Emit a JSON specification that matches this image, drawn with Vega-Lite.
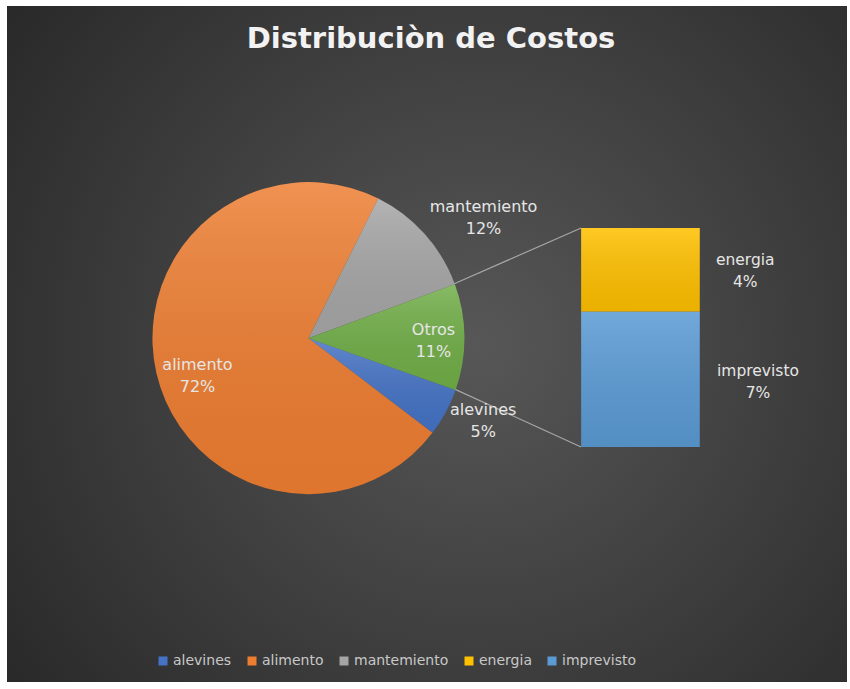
{
  "$schema": "https://vega.github.io/schema/vega-lite/v6.json",
  "width": 850,
  "height": 689,
  "autosize": {"type": "fit", "contains": "padding"},
  "padding": {"left": 7, "top": 6, "right": 3, "bottom": 7},
  "background": "#ffffff",
  "config": {
    "view": {
      "stroke": null,
      "fill": {"gradient": "radial", "x1": 0.56, "y1": 0.5, "r1": 0, "x2": 0.56, "y2": 0.5, "r2": 0.72,
        "stops": [{"offset": 0, "color": "#575757"}, {"offset": 1, "color": "#272727"}]}
    },
    "text": {"font": "DejaVu Sans"}
  },
  "datasets": {
    "pie": [
      {"label": "alevines", "value": 5},
      {"label": "alimento", "value": 72},
      {"label": "mantemiento", "value": 12},
      {"label": "Otros", "value": 11}
    ],
    "detail": [
      {"label": "energia", "value": 4.2},
      {"label": "imprevisto", "value": 6.8}
    ],
    "one": [{}]
  },
  "encoding": {
    "x": {"type": "quantitative", "scale": {"domain": [-15.07, 27.12], "nice": false, "zero": false}, "axis": null},
    "y": {"type": "quantitative", "scale": {"domain": [-11.80, 22.15], "nice": false, "zero": false}, "axis": null}
  },
  "layer": [
    {
      "data": {"name": "one"},
      "mark": {"type": "text", "text": "Distribuciòn de Costos", "font": "DejaVu Sans", "fontWeight": "bold", "fontSize": 29, "fill": "#F2F2F2", "align": "center", "baseline": "alphabetic"},
      "encoding": {"x": {"datum": 6.23, "type": "quantitative"}, "y": {"datum": 20.04, "type": "quantitative"}}
    },
    {
      "data": {"name": "one"},
      "mark": {"type": "rule", "color": "#A6A6A6", "strokeWidth": 1.2},
      "encoding": {"x": {"datum": 7.38, "type": "quantitative"}, "y": {"datum": 8.19, "type": "quantitative"}, "x2": {"datum": 13.86}, "y2": {"datum": 11}}
    },
    {
      "data": {"name": "one"},
      "mark": {"type": "rule", "color": "#A6A6A6", "strokeWidth": 1.2},
      "encoding": {"x": {"datum": 7.43, "type": "quantitative"}, "y": {"datum": 2.91, "type": "quantitative"}, "x2": {"datum": 13.86}, "y2": {"datum": 0}}
    },
    {
      "data": {"name": "pie"},
      "mark": {"type": "arc", "outerRadius": 156},
      "encoding": {
        "x": {"datum": 0, "type": "quantitative"},
        "y": {"datum": 5.47, "type": "quantitative"},
        "theta": {"field": "value", "type": "quantitative", "stack": true, "scale": {"range": [1.218, 7.501]}},
        "order": {"field": "label", "type": "ordinal", "sort": "ascending"},
        "color": {
          "field": "label", "type": "nominal",
          "scale": {
            "domain": ["alevines", "alimento", "mantemiento", "energia", "imprevisto", "Otros"],
            "range": ["#4472C4", "#ED7D31", "#A5A5A5", "#FFC000", "#5B9BD5", "#70AD47"]
          },
          "legend": {
            "values": ["alevines", "alimento", "mantemiento", "energia", "imprevisto"],
            "orient": "none", "legendX": 149, "legendY": 648, "direction": "horizontal",
            "title": null, "padding": 0, "symbolType": "square", "symbolSize": 81, "symbolStrokeWidth": 0,
            "labelFont": "DejaVu Sans", "labelFontSize": 14, "labelColor": "#C8C8C8", "labelOffset": 3,
            "columnPadding": 13
          }
        }
      }
    },
    {
      "data": {"name": "pie"},
      "mark": {"type": "arc", "outerRadius": 156,
        "fill": {"gradient": "linear", "x1": 0, "y1": 0, "x2": 0, "y2": 1,
          "stops": [{"offset": 0, "color": "rgba(255,255,255,0.16)"}, {"offset": 1, "color": "rgba(0,0,0,0.06)"}]}},
      "encoding": {
        "x": {"datum": 0, "type": "quantitative"},
        "y": {"datum": 5.47, "type": "quantitative"},
        "theta": {"field": "value", "type": "quantitative", "stack": true},
        "order": {"field": "label", "type": "ordinal", "sort": "ascending"}
      }
    },
    {
      "data": {"name": "detail"},
      "mark": {"type": "bar", "orient": "vertical"},
      "encoding": {
        "x": {"datum": 13.86, "type": "quantitative"},
        "x2": {"datum": 19.89},
        "y": {"field": "value", "type": "quantitative", "stack": "zero"},
        "order": {"field": "value", "type": "quantitative", "sort": "descending"},
        "color": {"field": "label", "type": "nominal"}
      }
    },
    {
      "data": {"name": "detail"},
      "mark": {"type": "bar", "orient": "vertical",
        "fill": {"gradient": "linear", "x1": 0, "y1": 0, "x2": 0, "y2": 1,
          "stops": [{"offset": 0, "color": "rgba(255,255,255,0.14)"}, {"offset": 1, "color": "rgba(0,0,0,0.08)"}]}},
      "encoding": {
        "x": {"datum": 13.86, "type": "quantitative"},
        "x2": {"datum": 19.89},
        "y": {"field": "value", "type": "quantitative", "stack": "zero"},
        "order": {"field": "value", "type": "quantitative", "sort": "descending"}
      }
    },
    {
      "data": {"name": "pie"},
      "transform": [{"calculate": "datum.label === 'Otros' ? datum.label + '\\n' + format(datum.value, '.0f') + '%' : ''", "as": "txt"}],
      "mark": {"type": "text", "radius": 125, "dy": -7, "fontSize": 16, "fill": "#E6E6E6", "lineBreak": "\n", "lineHeight": 22, "align": "center", "baseline": "middle"},
      "encoding": {
        "x": {"datum": 0, "type": "quantitative"},
        "y": {"datum": 5.47, "type": "quantitative"},
        "theta": {"field": "value", "type": "quantitative", "stack": true},
        "order": {"field": "label", "type": "ordinal", "sort": "ascending"},
        "text": {"field": "txt"}
      }
    },
    {
      "data": {"name": "pie"},
      "transform": [{"calculate": "datum.label === 'alimento' ? datum.label + '\\n' + format(datum.value, '.0f') + '%' : ''", "as": "txt"}],
      "mark": {"type": "text", "radius": 117, "dx": 3, "dy": 1, "fontSize": 16, "fill": "#E6E6E6", "lineBreak": "\n", "lineHeight": 22, "align": "center", "baseline": "middle"},
      "encoding": {
        "x": {"datum": 0, "type": "quantitative"},
        "y": {"datum": 5.47, "type": "quantitative"},
        "theta": {"field": "value", "type": "quantitative", "stack": true},
        "order": {"field": "label", "type": "ordinal", "sort": "ascending"},
        "text": {"field": "txt"}
      }
    },
    {
      "data": {"name": "pie"},
      "transform": [{"calculate": "datum.label === 'mantemiento' ? datum.label + '\\n' + format(datum.value, '.0f') + '%' : ''", "as": "txt"}],
      "mark": {"type": "text", "radius": 200, "dx": 26, "dy": 2, "fontSize": 16, "fill": "#E6E6E6", "lineBreak": "\n", "lineHeight": 22, "align": "center", "baseline": "middle"},
      "encoding": {
        "x": {"datum": 0, "type": "quantitative"},
        "y": {"datum": 5.47, "type": "quantitative"},
        "theta": {"field": "value", "type": "quantitative", "stack": true},
        "order": {"field": "label", "type": "ordinal", "sort": "ascending"},
        "text": {"field": "txt"}
      }
    },
    {
      "data": {"name": "pie"},
      "transform": [{"calculate": "datum.label === 'alevines' ? datum.label + '\\n' + format(datum.value, '.0f') + '%' : ''", "as": "txt"}],
      "mark": {"type": "text", "radius": 194, "dx": 4, "dy": -20, "fontSize": 16, "fill": "#E6E6E6", "lineBreak": "\n", "lineHeight": 22, "align": "center", "baseline": "middle"},
      "encoding": {
        "x": {"datum": 0, "type": "quantitative"},
        "y": {"datum": 5.47, "type": "quantitative"},
        "theta": {"field": "value", "type": "quantitative", "stack": true},
        "order": {"field": "label", "type": "ordinal", "sort": "ascending"},
        "text": {"field": "txt"}
      }
    },
    {
      "data": {"name": "detail"},
      "transform": [{"calculate": "datum.label === 'energia' ? datum.label + '\\n' + format(datum.value, '.0f') + '%' : ''", "as": "txt"}],
      "mark": {"type": "text", "dy": 32, "fontSize": 15.5, "fill": "#E6E6E6", "lineBreak": "\n", "lineHeight": 22, "align": "center", "baseline": "middle"},
      "encoding": {
        "x": {"datum": 22.2, "type": "quantitative"},
        "y": {"field": "value", "type": "quantitative", "stack": "zero"},
        "order": {"field": "value", "type": "quantitative", "sort": "descending"},
        "text": {"field": "txt"}
      }
    },
    {
      "data": {"name": "detail"},
      "transform": [{"calculate": "datum.label === 'imprevisto' ? datum.label + '\\n' + format(datum.value, '.0f') + '%' : ''", "as": "txt"}],
      "mark": {"type": "text", "dy": 59, "fontSize": 15.5, "fill": "#E6E6E6", "lineBreak": "\n", "lineHeight": 22, "align": "center", "baseline": "middle"},
      "encoding": {
        "x": {"datum": 22.85, "type": "quantitative"},
        "y": {"field": "value", "type": "quantitative", "stack": "zero"},
        "order": {"field": "value", "type": "quantitative", "sort": "descending"},
        "text": {"field": "txt"}
      }
    }
  ]
}
